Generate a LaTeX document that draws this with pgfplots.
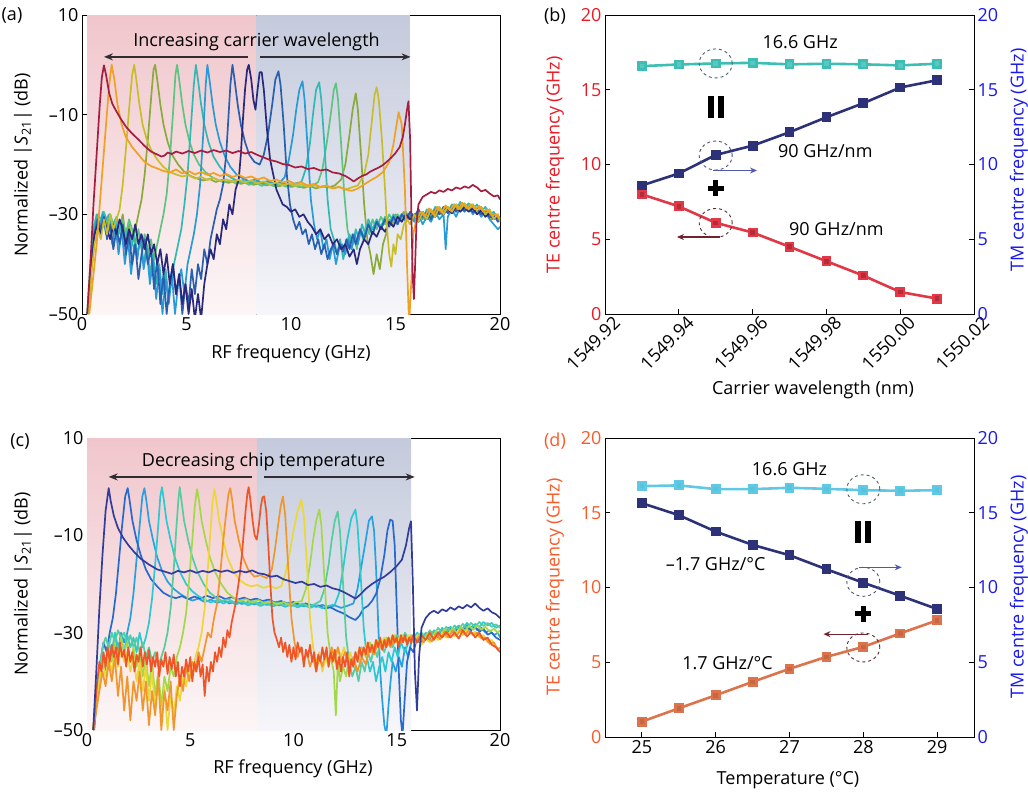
\documentclass[border=0pt]{standalone}
\usepackage{pgfplots}
\pgfplotsset{compat=1.18}
\usepackage{fontspec}
\setmainfont{Open Sans}
\usetikzlibrary{arrows.meta}

\definecolor{aA}{RGB}{165,30,65}
\definecolor{aB}{RGB}{240,160,35}
\definecolor{aC}{RGB}{200,190,45}
\definecolor{aD}{RGB}{140,170,60}
\definecolor{aE}{RGB}{95,195,130}
\definecolor{aF}{RGB}{50,185,180}
\definecolor{aG}{RGB}{40,155,215}
\definecolor{aH}{RGB}{40,95,175}
\definecolor{aI}{RGB}{40,40,125}
\definecolor{cA}{RGB}{50,60,155}
\definecolor{cB}{RGB}{40,105,205}
\definecolor{cC}{RGB}{40,160,225}
\definecolor{cD}{RGB}{45,200,210}
\definecolor{cE}{RGB}{85,205,160}
\definecolor{cF}{RGB}{165,215,75}
\definecolor{cG}{RGB}{235,215,55}
\definecolor{cH}{RGB}{240,150,45}
\definecolor{cI}{RGB}{240,85,40}
\definecolor{pinkT}{RGB}{240,198,204}
\definecolor{pinkB}{RGB}{252,246,246}
\definecolor{blueT}{RGB}{196,202,220}
\definecolor{blueB}{RGB}{246,246,250}
\definecolor{bRed}{RGB}{225,55,70}
\definecolor{bNavy}{RGB}{45,50,120}
\definecolor{bCyan}{RGB}{60,190,180}
\definecolor{dOrange}{RGB}{220,115,75}
\definecolor{dCyan}{RGB}{95,200,230}
\definecolor{tRed}{RGB}{235,25,35}
\definecolor{tBlue}{RGB}{25,25,235}
\definecolor{tOrange}{RGB}{250,90,40}
\definecolor{arrG}{RGB}{50,45,50}
\definecolor{arB}{RGB}{80,90,170}
\definecolor{arR}{RGB}{110,35,45}
\definecolor{ciC}{RGB}{70,100,100}
\definecolor{ciB}{RGB}{80,80,120}
\definecolor{ciR}{RGB}{90,45,45}

\newcommand{\fs}{\fontsize{18}{21.5}\selectfont}
\pgfplotsset{
  myax/.style={scale only axis, anchor=south west, tick align=inside,
    major tick length=5pt, axis line style={line width=0.9pt},
    tick style={line width=0.9pt, black},
    every tick label/.append style={font=\fs},
    /pgf/number format/assume math mode=true},
  sp/.style={line width=1.7pt, line join=round, no marks},
  fr/.style={line width=2.6pt, mark=square*, mark size=3.6pt},
}

\begin{document}
\begin{tikzpicture}[font=\fs]
\useasboundingbox (0pt,0pt) rectangle (1028pt,-794pt);

% ================= (a) =================
\begin{axis}[myax, at={(82pt,-314pt)}, width=418pt, height=299pt,
  xmin=0, xmax=20, ymin=-50, ymax=10,
  xtick={0,5,10,15,20}, xticklabels={0,5,10,15,20},
  ytick={-50,-30,-10,10}, yticklabels={–50,–30,–10,10},
  xtick pos=bottom, ytick pos=left]
\path[top color=pinkT, bottom color=pinkB] (axis cs:0.24,-50) rectangle (axis cs:8.34,10);
\path[top color=blueT, bottom color=blueB] (axis cs:8.34,-50) rectangle (axis cs:15.69,10);
% olive green
\addplot[sp, aD] coordinates {(0.3,-50)(0.45,-40)(0.6,-34)(0.75,-31)(0.9,-33)(1.05,-30.5)(1.2,-32)(1.35,-30)(1.5,-34)(1.65,-31)(1.8,-33)(1.95,-30)(2.1,-35)(2.25,-32)(2.4,-36)(2.55,-33)(2.7,-30)(2.85,-27)(3.0,-22)(3.15,-15)(3.3,-7)(3.42,-1)(3.5,0)(3.6,-3)(3.75,-8)(3.9,-12)(4.1,-15.5)(4.3,-18)(4.6,-20)(4.9,-21.5)(5.2,-22.3)(5.5,-22.8)(5.8,-23.2)(6.1,-22.9)(6.4,-23.5)(6.7,-23.1)(7.0,-23.7)(7.3,-23.3)(7.6,-23.9)(7.9,-23.5)(8.2,-24.1)(8.5,-23.7)(8.8,-24.2)(9.1,-23.9)(9.4,-24.4)(9.7,-24.0)(10.0,-24.5)(10.3,-24.2)(10.6,-24.7)(10.9,-24.3)(11.2,-24.8)(11.5,-24.4)(11.8,-24.6)(12.1,-24.2)(12.4,-23)(12.6,-20)(12.8,-14)(12.95,-9)(13.1,-5.7)(13.2,-9)(13.35,-18)(13.5,-28)(13.65,-35)(13.8,-38)(13.95,-42)(14.1,-38)(14.25,-41)(14.4,-36)(14.55,-34)(14.7,-31)(14.85,-32)(15.0,-30)(15.2,-31)(15.4,-29.5)(15.6,-31)(15.8,-30)(16.0,-31.5)(16.2,-29.5)(16.4,-31)(16.6,-29)(16.8,-30.5)(17.0,-28.5)(17.2,-30)(17.4,-28.5)(17.6,-29.5)(17.8,-28)(18.0,-29)(18.2,-27.8)(18.4,-29)(18.6,-28)(18.8,-29.2)(19.0,-28.5)(19.2,-30)(19.4,-29)(19.6,-31)(19.8,-30)(20,-31.5)};
% green
\addplot[sp, aE] coordinates {(0.3,-50)(0.45,-38)(0.6,-32)(0.75,-30)(0.9,-31)(1.05,-29.5)(1.2,-31.5)(1.35,-30)(1.5,-32)(1.65,-30.5)(1.8,-33)(1.95,-31)(2.1,-34)(2.25,-31)(2.4,-33)(2.55,-36)(2.7,-33)(2.85,-37)(3.0,-34)(3.15,-38)(3.3,-35)(3.45,-39)(3.6,-36)(3.75,-33)(3.9,-30)(4.05,-26)(4.2,-19)(4.35,-10)(4.47,-2)(4.55,0)(4.65,-3)(4.8,-8)(4.95,-12)(5.15,-15.5)(5.35,-18)(5.6,-20)(5.9,-21.5)(6.2,-22.5)(6.5,-23.1)(6.8,-23.6)(7.1,-23.2)(7.4,-23.9)(7.7,-23.4)(8.0,-24.1)(8.3,-23.6)(8.6,-24.3)(8.9,-23.8)(9.2,-24.4)(9.5,-24.0)(9.8,-24.5)(10.1,-24.1)(10.4,-24.6)(10.7,-24.2)(11.0,-24.4)(11.3,-23.5)(11.5,-21)(11.7,-16)(11.9,-10)(12.05,-5)(12.15,-3.7)(12.25,-7)(12.4,-16)(12.55,-26)(12.7,-33)(12.85,-36)(13.0,-34)(13.15,-37)(13.3,-33)(13.45,-35)(13.6,-32)(13.75,-34)(13.9,-31)(14.1,-33)(14.3,-30.5)(14.5,-32)(14.7,-30)(14.9,-31.5)(15.1,-30)(15.3,-31)(15.5,-29.5)(15.7,-31)(15.9,-30)(16.1,-31.5)(16.3,-29.5)(16.5,-31)(16.7,-29)(16.9,-30.5)(17.1,-28.5)(17.3,-30)(17.5,-28.5)(17.7,-29.5)(17.9,-28)(18.1,-29)(18.3,-27.8)(18.5,-29)(18.7,-28)(18.9,-29.2)(19.1,-28.5)(19.3,-30)(19.5,-29)(19.7,-31)(19.9,-30)(20,-31)};
% teal
\addplot[sp, aF] coordinates {(0.25,-50)(0.4,-40)(0.55,-33)(0.7,-30)(0.85,-32)(1.0,-29.5)(1.15,-31)(1.3,-30)(1.45,-33)(1.6,-31)(1.75,-34)(1.9,-32)(2.05,-35)(2.2,-33)(2.35,-37)(2.5,-34)(2.65,-38)(2.8,-35)(2.95,-40)(3.1,-36)(3.25,-42)(3.4,-38)(3.55,-44)(3.7,-40)(3.85,-46)(4.0,-41)(4.15,-47)(4.3,-42)(4.45,-39)(4.6,-36)(4.75,-33)(4.9,-28)(5.05,-22)(5.2,-13)(5.35,-4)(5.45,0)(5.55,-3)(5.7,-8)(5.85,-12)(6.05,-15.5)(6.3,-18.5)(6.6,-20.5)(6.9,-22)(7.2,-22.8)(7.5,-23.4)(7.8,-23.0)(8.1,-23.7)(8.4,-23.3)(8.7,-23.9)(9.0,-23.5)(9.3,-24.1)(9.6,-23.7)(9.9,-24.2)(10.2,-23.8)(10.5,-23.5)(10.7,-21)(10.9,-16)(11.05,-10)(11.2,-5)(11.35,-3.5)(11.45,-7)(11.6,-16)(11.75,-27)(11.9,-33)(12.05,-35)(12.2,-38)(12.35,-35)(12.5,-39)(12.65,-36)(12.8,-34)(12.95,-36)(13.1,-33)(13.25,-35)(13.4,-32)(13.55,-34)(13.7,-31)(13.9,-33)(14.1,-31)(14.3,-32.5)(14.5,-30.5)(14.7,-32)(14.9,-30)(15.1,-31.5)(15.3,-30)(15.5,-31)(15.7,-30)(15.9,-31)(16.1,-29.5)(16.3,-31)(16.5,-29)(16.7,-30.5)(16.9,-28.5)(17.1,-30)(17.3,-28.5)(17.5,-29.5)(17.7,-28)(17.9,-29)(18.1,-27.5)(18.3,-28.8)(18.5,-27.8)(18.7,-29)(18.9,-28)(19.1,-29.5)(19.3,-28.5)(19.5,-30)(19.7,-29.5)(19.9,-31)(20,-30.5)};
% light blue
\addplot[sp, aG] coordinates {(0.25,-50)(0.4,-42)(0.55,-35)(0.7,-31)(0.85,-33)(1.0,-30)(1.15,-34)(1.3,-31)(1.45,-36)(1.6,-32)(1.75,-38)(1.9,-33)(2.05,-40)(2.2,-35)(2.35,-42)(2.5,-36)(2.65,-39)(2.8,-34)(2.95,-41)(3.1,-37)(3.25,-44)(3.4,-39)(3.55,-47)(3.7,-41)(3.85,-50)(4.0,-43)(4.15,-48)(4.3,-42)(4.45,-50)(4.6,-44)(4.75,-41)(4.9,-46)(5.05,-40)(5.2,-37)(5.35,-34)(5.5,-30)(5.65,-24)(5.8,-14)(5.92,-4)(6.0,0)(6.1,-3)(6.25,-8)(6.4,-12)(6.6,-15.5)(6.85,-18.5)(7.1,-20.5)(7.4,-22)(7.7,-22.8)(8.0,-23.4)(8.3,-23.0)(8.6,-23.7)(8.9,-23.3)(9.2,-23.9)(9.5,-23.5)(9.7,-22.5)(9.9,-19)(10.1,-14)(10.25,-9)(10.4,-5)(10.55,-3.3)(10.65,-7)(10.8,-17)(10.95,-27)(11.1,-32)(11.25,-35)(11.4,-33)(11.55,-37)(11.7,-35)(11.85,-39)(12.0,-36)(12.15,-40)(12.3,-37)(12.45,-36)(12.6,-38)(12.75,-35)(12.9,-37)(13.05,-34)(13.2,-36)(13.35,-33)(13.5,-35)(13.7,-32)(13.9,-34)(14.1,-31.5)(14.3,-33)(14.5,-31)(14.7,-32)(14.9,-30.5)(15.1,-32)(15.3,-30)(15.5,-31.5)(15.7,-30)(15.9,-31.5)(16.1,-30)(16.3,-32)(16.5,-30.5)(16.7,-31.5)(16.9,-29.5)(17.1,-31)(17.3,-30)(17.4,-37)(17.5,-30.5)(17.7,-29)(17.9,-30.5)(18.1,-28.5)(18.3,-29.5)(18.5,-28.5)(18.7,-30)(18.9,-29)(19.1,-30.5)(19.3,-29.5)(19.5,-31)(19.7,-32)(19.9,-33)(20,-32.5)};
% blue
\addplot[sp, aH] coordinates {(0.3,-50)(0.45,-41)(0.6,-34)(0.75,-31)(0.9,-33)(1.05,-30.5)(1.2,-35)(1.35,-32)(1.5,-37)(1.65,-33)(1.8,-36)(1.95,-32)(2.1,-38)(2.25,-34)(2.4,-40)(2.55,-36)(2.7,-43)(2.85,-38)(3.0,-35)(3.15,-40)(3.3,-37)(3.45,-45)(3.6,-39)(3.75,-48)(3.9,-42)(4.05,-50)(4.2,-44)(4.35,-40)(4.5,-46)(4.65,-42)(4.8,-50)(4.95,-44)(5.1,-48)(5.25,-41)(5.4,-46)(5.55,-40)(5.7,-43)(5.85,-37)(6.0,-40)(6.15,-35)(6.3,-32)(6.45,-29)(6.6,-27)(6.75,-24)(6.9,-18)(7.0,-11)(7.1,-4)(7.2,0)(7.3,-3)(7.45,-8)(7.6,-12)(7.8,-15.5)(8.0,-18)(8.25,-19.5)(8.5,-20)(8.7,-18)(8.9,-14)(9.1,-8)(9.25,-3)(9.4,-1.3)(9.5,-4)(9.65,-12)(9.8,-22)(9.95,-28)(10.1,-31)(10.25,-33)(10.4,-31.5)(10.55,-34)(10.7,-33)(10.85,-36)(11.0,-34)(11.15,-37)(11.3,-35)(11.45,-38)(11.6,-36)(11.75,-39)(11.9,-37)(12.05,-36)(12.2,-38)(12.35,-36)(12.5,-37.5)(12.65,-35)(12.8,-37)(12.95,-34)(13.1,-36)(13.3,-33)(13.5,-35)(13.7,-32)(13.9,-34)(14.1,-31.5)(14.3,-33)(14.5,-31)(14.7,-32.5)(14.9,-30.5)(15.1,-32)(15.3,-30)(15.5,-31)(15.7,-29.5)(15.9,-30.5)(16.1,-29)(16.3,-30.5)(16.5,-29.5)(16.7,-31)(16.9,-29)(17.1,-30)(17.3,-28.5)(17.5,-29.8)(17.7,-28.5)(17.9,-29.5)(18.1,-28.2)(18.3,-29.3)(18.5,-28.4)(18.7,-29.6)(18.9,-28.8)(19.1,-30)(19.3,-29.2)(19.5,-30.6)(19.7,-30)(19.9,-31.5)(20,-31)};
% navy
\addplot[sp, aI] coordinates {(0.3,-50)(0.45,-40)(0.6,-34)(0.75,-32)(0.9,-34)(1.05,-31)(1.2,-33)(1.35,-35)(1.5,-32)(1.65,-34)(1.8,-31)(1.95,-33)(2.1,-36)(2.25,-33)(2.4,-35)(2.55,-32)(2.7,-36)(2.85,-34)(3.0,-37)(3.15,-34)(3.3,-38)(3.45,-36)(3.6,-40)(3.75,-37)(3.9,-42)(4.05,-38)(4.2,-44)(4.35,-40)(4.5,-46)(4.65,-42)(4.8,-48)(4.95,-44)(5.1,-50)(5.25,-45)(5.4,-51)(5.55,-46)(5.7,-51)(5.85,-44)(6.0,-40)(6.15,-37)(6.3,-39)(6.45,-34)(6.6,-36)(6.75,-31)(6.9,-33)(7.05,-28)(7.2,-30)(7.35,-25)(7.5,-23)(7.6,-18)(7.7,-11)(7.8,-5)(7.9,-1)(7.98,0)(8.1,-3)(8.2,-7)(8.3,-9)(8.4,-5)(8.5,-1.5)(8.6,-1.5)(8.7,-5)(8.85,-13)(9.0,-19)(9.15,-22)(9.3,-25)(9.45,-26.5)(9.6,-28)(9.8,-28.5)(10.0,-29.5)(10.2,-29)(10.4,-30.5)(10.6,-30)(10.8,-31.5)(11.0,-32.5)(11.2,-34)(11.4,-33)(11.6,-35)(11.8,-34)(12.0,-36)(12.2,-35)(12.4,-37)(12.6,-36)(12.8,-38.5)(13.0,-37)(13.15,-40)(13.3,-37)(13.5,-35)(13.7,-36)(13.9,-33.5)(14.1,-34.5)(14.3,-32.5)(14.5,-33.5)(14.7,-31.5)(14.9,-32.5)(15.1,-30.5)(15.3,-31.5)(15.5,-30)(15.7,-31)(15.9,-30)(16.1,-31.5)(16.3,-29.5)(16.5,-31)(16.7,-29.5)(16.9,-30.5)(17.1,-29)(17.3,-30)(17.5,-28.8)(17.7,-29.8)(17.9,-28.5)(18.1,-29.5)(18.3,-28.5)(18.5,-29.5)(18.7,-28.8)(18.9,-30)(19.1,-29.2)(19.3,-30.5)(19.5,-29.8)(19.7,-31)(19.9,-30.5)(20,-31)};
% yellow-olive
\addplot[sp, aC] coordinates {(0.3,-50)(0.45,-42)(0.6,-36)(0.75,-33)(0.9,-35)(1.05,-31)(1.2,-34)(1.35,-30)(1.5,-33)(1.65,-31)(1.8,-29)(1.95,-24)(2.1,-17)(2.25,-9)(2.4,-2)(2.5,0)(2.6,-3)(2.75,-8)(2.9,-12)(3.1,-15)(3.3,-17)(3.6,-19)(3.9,-20.5)(4.2,-21.5)(4.5,-22)(4.8,-22.4)(5.1,-22.1)(5.4,-22.8)(5.7,-22.5)(6.0,-23.1)(6.3,-22.7)(6.6,-23.3)(6.9,-23.0)(7.2,-23.5)(7.5,-23.1)(7.8,-23.6)(8.1,-23.2)(8.4,-23.8)(8.7,-23.4)(9.0,-24.0)(9.3,-23.6)(9.6,-24.2)(9.9,-23.8)(10.2,-24.3)(10.5,-24.0)(10.8,-24.5)(11.1,-24.1)(11.4,-24.6)(11.7,-24.3)(12.0,-24.8)(12.3,-24.5)(12.6,-25.0)(12.9,-24.6)(13.2,-24.2)(13.5,-22)(13.7,-18)(13.85,-12)(14.0,-6)(14.1,-4.5)(14.2,-7)(14.35,-15)(14.5,-25)(14.6,-33)(14.7,-38)(14.8,-40.5)(14.9,-36)(15.0,-38)(15.1,-34)(15.25,-35)(15.4,-32)(15.55,-31)(15.7,-32)(15.9,-30)(16.1,-31.5)(16.3,-29.5)(16.5,-31)(16.7,-29)(16.9,-30.5)(17.1,-28.5)(17.3,-30)(17.5,-28.5)(17.7,-29.5)(17.9,-28)(18.1,-29)(18.3,-27.8)(18.5,-29)(18.7,-28)(18.9,-29.2)(19.1,-28.5)(19.3,-30)(19.5,-29)(19.7,-31)(19.9,-30)(20,-31.5)};
% orange
\addplot[sp, aB] coordinates {(0.35,-50)(0.5,-44)(0.7,-36)(0.85,-28)(1.0,-20)(1.15,-12)(1.3,-4)(1.42,0)(1.55,-3)(1.7,-8)(1.9,-12)(2.1,-14.5)(2.4,-16.5)(2.7,-18)(3.0,-19.5)(3.3,-20.3)(3.6,-20.8)(3.9,-21.3)(4.2,-21.6)(4.5,-21.0)(4.8,-21.8)(5.1,-21.3)(5.4,-22.0)(5.7,-21.5)(6.0,-22.1)(6.3,-21.7)(6.6,-22.3)(6.9,-21.9)(7.2,-22.5)(7.5,-22.1)(7.8,-22.7)(8.1,-22.4)(8.4,-23.0)(8.7,-22.6)(9.0,-23.3)(9.3,-23.0)(9.6,-23.6)(9.9,-23.3)(10.2,-23.9)(10.5,-23.6)(10.8,-24.2)(11.1,-23.9)(11.4,-24.5)(11.7,-24.2)(12.0,-24.8)(12.3,-24.5)(12.6,-25.0)(12.9,-25.3)(13.2,-24.8)(13.5,-24.0)(13.8,-23.2)(14.1,-22.5)(14.4,-21.5)(14.7,-19.5)(14.9,-16)(15.05,-12)(15.15,-9.5)(15.3,-12)(15.45,-25)(15.55,-40)(15.65,-52)(15.75,-44)(15.85,-34)(16.0,-31)(16.2,-29.5)(16.4,-30.5)(16.6,-28.8)(16.8,-30)(17.0,-28.5)(17.2,-29.6)(17.4,-28.2)(17.6,-29.2)(17.8,-28)(18.0,-29)(18.2,-27.7)(18.4,-28.8)(18.6,-28)(18.8,-29)(19.0,-28.3)(19.2,-29.5)(19.4,-29)(19.6,-30.3)(19.8,-30)(20,-31)};
% maroon
\addplot[sp, aA] coordinates {(0.25,-50)(0.4,-40)(0.55,-28)(0.7,-18)(0.85,-8)(0.95,-2.5)(1.05,-0.1)(1.15,-2)(1.3,-5.7)(1.45,-7.8)(1.6,-9)(1.85,-10.8)(2.1,-12.4)(2.4,-13.8)(2.7,-15)(3.0,-16.3)(3.3,-17.4)(3.6,-18)(3.8,-18.4)(3.95,-18.2)(4.1,-17.6)(4.3,-17.9)(4.5,-17.4)(4.8,-17.8)(5.1,-17.3)(5.4,-17.7)(5.7,-17.2)(6.0,-17.6)(6.3,-17.1)(6.6,-17.5)(6.9,-17.2)(7.2,-17.7)(7.5,-17.3)(7.8,-17.8)(8.1,-17.5)(8.4,-18.1)(8.7,-18.6)(9.0,-19.1)(9.3,-19.4)(9.6,-19.9)(9.9,-20.1)(10.2,-20.6)(10.5,-20.4)(10.8,-20.9)(11.1,-20.7)(11.4,-21.2)(11.7,-21.0)(12.0,-21.6)(12.3,-21.8)(12.6,-22.3)(12.8,-22.8)(13.0,-23.4)(13.2,-22.8)(13.4,-22.3)(13.6,-22.0)(13.8,-21.4)(14.0,-21.0)(14.2,-20.6)(14.4,-20.1)(14.6,-19.4)(14.8,-18.6)(15.0,-17.7)(15.2,-16.5)(15.35,-14.5)(15.45,-12)(15.55,-9)(15.62,-7.3)(15.7,-15)(15.76,-30)(15.82,-42)(15.88,-47)(15.94,-40)(16.0,-32)(16.1,-28)(16.3,-26.5)(16.5,-26)(16.7,-25.5)(16.9,-25.8)(17.1,-25.2)(17.3,-25.5)(17.5,-24.9)(17.7,-25.2)(17.9,-24.6)(18.1,-24.9)(18.3,-24.4)(18.5,-24.7)(18.7,-24.1)(18.9,-24.6)(19.1,-25.4)(19.3,-25.1)(19.5,-25.8)(19.7,-26.4)(19.9,-26.2)(20,-27)};
\draw[arrG, line width=1.4pt, -{Stealth[length=9pt,width=7pt]}] (axis cs:7.95,1.6) -- (axis cs:1.05,1.6);
\draw[arrG, line width=1.4pt, -{Stealth[length=9pt,width=7pt]}] (axis cs:8.5,1.6) -- (axis cs:15.72,1.6);
\node at (axis cs:8.35,4.7) {Increasing carrier wavelength};
\end{axis}

% ================= (b) =================
\begin{axis}[myax, at={(605pt,-314pt)}, width=369pt, height=299pt,
  xmin=0, xmax=10, ymin=0, ymax=20,
  xtick={0,2,4,6,8,10}, xticklabels={1549.92,1549.94,1549.96,1549.98,1550.00,1550.02},
  xticklabel style={rotate=45, anchor=north east, xshift=8pt, yshift=-2pt},
  ytick={0,5,10,15,20}, yticklabels={0,5,10,15,20},
  yticklabel style={tRed},
  xtick pos=bottom, ytick pos=left]
\addplot[fr, bCyan, mark options={fill=bCyan!85!white}] coordinates {(1,16.58)(2,16.69)(3,16.76)(4,16.8)(5,16.7)(6,16.74)(7,16.7)(8,16.63)(9,16.74)};
\addplot[fr, bRed, mark options={fill=bRed!80!black}] coordinates {(1,8.0)(2,7.2)(3,6.1)(4,5.45)(5,4.5)(6,3.53)(7,2.57)(8,1.47)(9,1.03)};
\addplot[fr, bNavy] coordinates {(1,8.6)(2,9.4)(3,10.64)(4,11.26)(5,12.16)(6,13.16)(7,14.1)(8,15.15)(9,15.64)};
\draw[ciC, dashed, line width=0.9pt] (axis cs:3,16.76) ellipse [x radius=16.5pt, y radius=14.5pt];
\draw[ciB, dashed, line width=0.9pt] (axis cs:3,10.6) ellipse [x radius=16.5pt, y radius=14.5pt];
\draw[ciR, dashed, line width=0.9pt] (axis cs:3,6.09) ellipse [x radius=16.5pt, y radius=14.5pt];
\node at (axis cs:5.29,18.2) {16.6 GHz};
\node at (axis cs:5.97,10.9) {90 GHz/nm};
\node at (axis cs:6.27,5.65) {90 GHz/nm};
\fill[black] ([xshift=-8pt,yshift=-11pt]axis cs:3,13.85) rectangle ++(6pt,22pt);
\fill[black] ([xshift=2pt,yshift=-11pt]axis cs:3,13.85) rectangle ++(6pt,22pt);
\fill[black] ([xshift=-8pt,yshift=-2.5pt]axis cs:3,8.4) rectangle ++(16pt,5pt);
\fill[black] ([xshift=-2.5pt,yshift=-8pt]axis cs:3,8.4) rectangle ++(5pt,16pt);
\draw[arB, line width=1.2pt, -{Stealth[length=7pt,width=6pt]}] (axis cs:2.94,9.6) -- (axis cs:4.12,9.6);
\draw[arR, line width=1.2pt, -{Stealth[length=7pt,width=6pt]}] (axis cs:3.12,5.15) -- (axis cs:1.95,5.15);
\end{axis}
\begin{axis}[myax, at={(605pt,-314pt)}, width=369pt, height=299pt,
  xmin=0, xmax=10, ymin=0, ymax=20, hide x axis,
  ytick pos=right, yticklabel pos=right,
  ytick={0,5,10,15,20}, yticklabels={0,5,10,15,20},
  yticklabel style={tBlue}]
\end{axis}

% ================= (c) =================
\begin{axis}[myax, at={(87pt,-730pt)}, width=413pt, height=292pt,
  xmin=0, xmax=20, ymin=-50, ymax=10,
  xtick={0,5,10,15,20}, xticklabels={0,5,10,15,20},
  ytick={-50,-30,-10,10}, yticklabels={–50,–30,–10,10},
  xtick pos=bottom, ytick pos=left]
\path[top color=pinkT, bottom color=pinkB] (axis cs:0,-50) rectangle (axis cs:8.23,10);
\path[top color=blueT, bottom color=blueB] (axis cs:8.23,-50) rectangle (axis cs:15.69,10);
% light blue
\addplot[sp, cC] coordinates {(0.3,-50)(0.45,-45)(0.6,-40)(0.75,-36)(0.9,-38)(1.05,-33)(1.2,-35)(1.35,-31)(1.5,-34)(1.65,-30)(1.8,-32)(1.95,-30)(2.1,-27)(2.25,-22)(2.4,-15)(2.55,-8)(2.68,-2)(2.78,-0.3)(2.88,-3)(3.0,-7)(3.2,-11)(3.4,-14.5)(3.65,-17.5)(3.9,-19.5)(4.2,-21)(4.5,-22)(4.8,-22.8)(5.1,-23.4)(5.4,-23.0)(5.7,-23.7)(6.0,-23.2)(6.3,-23.9)(6.6,-23.4)(6.9,-24.0)(7.2,-23.6)(7.5,-24.1)(7.8,-23.7)(8.1,-24.2)(8.4,-23.8)(8.7,-24.3)(9.0,-23.9)(9.3,-24.4)(9.6,-24.0)(9.9,-24.5)(10.2,-24.1)(10.5,-24.6)(10.8,-24.2)(11.1,-24.7)(11.4,-24.3)(11.7,-24.8)(12.0,-24.4)(12.3,-24.9)(12.6,-24.5)(12.9,-24)(13.1,-21)(13.3,-16)(13.5,-11)(13.65,-7)(13.8,-6.1)(13.9,-9)(14.0,-17)(14.1,-28)(14.2,-38)(14.3,-44)(14.4,-49)(14.5,-51)(14.6,-45)(14.7,-40)(14.8,-36)(14.95,-38)(15.1,-35)(15.25,-37)(15.4,-33)(15.55,-35)(15.7,-32)(15.9,-31)(16.1,-32)(16.3,-30.5)(16.5,-31.5)(16.7,-30)(16.9,-31)(17.1,-29.5)(17.3,-30.5)(17.5,-29)(17.7,-30)(17.9,-28.8)(18.1,-29.6)(18.3,-28.6)(18.5,-29.4)(18.7,-28.5)(18.9,-29.5)(19.1,-29)(19.3,-30)(19.5,-29.5)(19.7,-30.5)(19.9,-30)(20,-31)};
% blue
\addplot[sp, cB] coordinates {(0.35,-50)(0.5,-42)(0.65,-36)(0.8,-32)(0.95,-34)(1.1,-30)(1.25,-27)(1.4,-22)(1.55,-15)(1.7,-8)(1.85,-2)(1.97,-0.3)(2.07,-3)(2.2,-7)(2.4,-11)(2.6,-14)(2.85,-17)(3.1,-19)(3.4,-20.5)(3.7,-21.8)(4.0,-22.5)(4.3,-22.9)(4.6,-22.5)(4.9,-23.1)(5.2,-22.6)(5.5,-23.0)(5.8,-22.4)(6.1,-22.9)(6.4,-22.5)(6.7,-23.1)(7.0,-22.7)(7.3,-23.2)(7.6,-22.8)(7.9,-23.3)(8.2,-23.0)(8.5,-23.5)(8.8,-23.2)(9.1,-23.8)(9.4,-23.5)(9.7,-24.0)(10.0,-23.7)(10.3,-24.3)(10.6,-24.0)(10.9,-24.6)(11.2,-24.4)(11.5,-25.0)(11.8,-24.8)(12.1,-25.5)(12.4,-26)(12.7,-26.8)(13.0,-27.4)(13.2,-26.5)(13.4,-25)(13.6,-24.5)(13.8,-23.5)(14.0,-22)(14.2,-19)(14.4,-14)(14.55,-9)(14.68,-6.8)(14.8,-7)(14.9,-12)(15.0,-25)(15.1,-38)(15.2,-48)(15.28,-51)(15.38,-44)(15.5,-36)(15.65,-33)(15.8,-34)(16.0,-31)(16.2,-32)(16.4,-30.5)(16.6,-31.5)(16.8,-30)(17.0,-31)(17.2,-29.5)(17.4,-30.5)(17.6,-29.2)(17.8,-30)(18.0,-28.8)(18.2,-29.8)(18.4,-28.6)(18.6,-29.5)(18.8,-28.8)(19.0,-29.8)(19.2,-29.2)(19.4,-30.4)(19.6,-30)(19.8,-31)(20,-31.5)};
% cyan
\addplot[sp, cD] coordinates {(0.3,-50)(0.45,-43)(0.6,-37)(0.75,-34)(0.9,-36)(1.05,-32)(1.2,-34)(1.35,-30)(1.5,-33)(1.65,-31)(1.8,-34)(1.95,-30.5)(2.1,-33)(2.25,-31)(2.4,-34)(2.55,-30)(2.7,-33)(2.85,-31)(3.0,-28)(3.15,-23)(3.3,-16)(3.45,-8)(3.55,-2)(3.63,-0.1)(3.73,-3)(3.85,-7)(4.05,-11)(4.25,-14.5)(4.5,-17.5)(4.8,-20)(5.1,-21.5)(5.4,-22.5)(5.7,-23.2)(6.0,-23.8)(6.3,-23.3)(6.6,-24.0)(6.9,-23.5)(7.2,-24.2)(7.5,-23.7)(7.8,-24.4)(8.1,-23.9)(8.4,-24.5)(8.7,-24.0)(9.0,-24.6)(9.3,-24.1)(9.6,-24.7)(9.9,-24.2)(10.2,-24.8)(10.5,-24.3)(10.8,-24.9)(11.1,-24.4)(11.4,-25.0)(11.7,-24.5)(12.0,-24.2)(12.2,-22)(12.4,-17)(12.6,-11)(12.8,-6.5)(13.0,-4.7)(13.1,-8)(13.25,-18)(13.4,-29)(13.55,-35)(13.7,-38)(13.85,-36)(14.0,-40)(14.15,-37)(14.3,-35)(14.45,-38)(14.6,-34)(14.75,-36)(14.9,-33)(15.05,-35)(15.2,-32)(15.4,-34)(15.6,-31.5)(15.8,-31)(16.0,-30)(16.2,-31.5)(16.4,-30)(16.6,-31)(16.8,-29.5)(17.0,-30.5)(17.2,-29)(17.4,-30)(17.6,-28.8)(17.8,-29.5)(18.0,-28.5)(18.2,-29.2)(18.4,-28)(18.6,-29)(18.8,-28.2)(19.0,-28.8)(19.2,-27.8)(19.4,-28.5)(19.6,-28)(19.8,-29)(20,-28.5)};
% teal-green
\addplot[sp, cE] coordinates {(0.3,-50)(0.45,-44)(0.6,-38)(0.75,-33)(0.9,-31)(1.05,-33)(1.2,-30)(1.35,-32)(1.5,-29.5)(1.65,-31)(1.8,-30)(1.95,-32.5)(2.1,-30.5)(2.25,-33)(2.4,-31)(2.55,-34)(2.7,-32)(2.85,-35)(3.0,-33)(3.15,-36)(3.3,-34)(3.45,-37)(3.6,-35)(3.75,-33)(3.9,-30)(4.05,-25)(4.2,-17)(4.32,-9)(4.42,-3)(4.49,-0.1)(4.58,-3)(4.7,-7)(4.9,-11)(5.1,-14.5)(5.35,-17.5)(5.65,-20)(5.95,-21.8)(6.25,-22.8)(6.55,-23.5)(6.85,-23.1)(7.15,-23.8)(7.45,-23.3)(7.75,-24.0)(8.05,-23.5)(8.35,-24.2)(8.65,-23.7)(8.95,-24.3)(9.25,-23.8)(9.55,-24.4)(9.85,-23.9)(10.15,-24.5)(10.45,-24.0)(10.75,-24.6)(11.05,-24.1)(11.3,-23.5)(11.5,-21)(11.7,-16)(11.85,-11)(12.0,-7)(12.14,-5.1)(12.25,-9)(12.4,-20)(12.55,-31)(12.7,-36)(12.85,-39)(13.0,-37)(13.15,-40)(13.3,-36)(13.45,-38)(13.6,-34)(13.75,-36)(13.9,-33)(14.05,-35)(14.2,-32)(14.4,-34)(14.6,-31)(14.8,-33)(15.0,-30.5)(15.2,-32)(15.4,-30)(15.6,-31.5)(15.8,-30.5)(16.0,-31.5)(16.2,-30)(16.4,-31)(16.6,-29.5)(16.8,-30.5)(17.0,-29)(17.2,-30)(17.4,-28.8)(17.6,-29.8)(17.8,-28.5)(18.0,-29.3)(18.2,-28.2)(18.4,-29)(18.6,-28)(18.8,-28.8)(19.0,-27.8)(19.2,-28.6)(19.4,-28)(19.6,-28.8)(19.8,-28.3)(20,-29)};
% yellow-green
\addplot[sp, cF] coordinates {(0.3,-50)(0.45,-45)(0.6,-39)(0.75,-35)(0.9,-37)(1.05,-33)(1.2,-36)(1.35,-32)(1.5,-35)(1.65,-31)(1.8,-34)(1.95,-32)(2.1,-36)(2.25,-33)(2.4,-37)(2.55,-34)(2.7,-39)(2.85,-35)(3.0,-41)(3.15,-36)(3.3,-43)(3.45,-38)(3.6,-45)(3.75,-39)(3.9,-42)(4.05,-37)(4.2,-39)(4.35,-35)(4.5,-33)(4.65,-30)(4.8,-26)(4.95,-19)(5.1,-11)(5.22,-4)(5.33,-0.5)(5.43,-3)(5.55,-7)(5.75,-11)(5.95,-14.5)(6.2,-17.5)(6.5,-20)(6.8,-21.8)(7.1,-22.8)(7.4,-23.5)(7.7,-23.1)(8.0,-23.8)(8.3,-23.3)(8.6,-24.0)(8.9,-23.5)(9.2,-24.2)(9.5,-23.7)(9.8,-24.3)(10.1,-23.8)(10.4,-23.5)(10.6,-21)(10.8,-16)(10.95,-11)(11.1,-7)(11.25,-4.7)(11.35,-8)(11.5,-19)(11.65,-30)(11.8,-35)(11.95,-38)(12.05,-47)(12.15,-36)(12.25,-40)(12.4,-37)(12.55,-39)(12.7,-35)(12.85,-37)(13.0,-34)(13.15,-36)(13.3,-33)(13.5,-35)(13.7,-32)(13.9,-34)(14.1,-31.5)(14.3,-33)(14.5,-31)(14.7,-32.5)(14.9,-30.5)(15.1,-32)(15.3,-30.5)(15.5,-31.5)(15.7,-30.5)(15.9,-31.8)(16.1,-30.2)(16.3,-31.5)(16.5,-30)(16.7,-31)(16.9,-29.6)(17.1,-30.6)(17.3,-29.3)(17.5,-30.2)(17.7,-29)(17.9,-30)(18.1,-28.8)(18.3,-29.6)(18.5,-28.6)(18.7,-29.4)(18.9,-28.5)(19.1,-29.4)(19.3,-28.8)(19.5,-29.8)(19.7,-29.2)(19.9,-30)(20,-29.5)};
% yellow
\addplot[sp, cG] coordinates {(0.3,-50)(0.45,-44)(0.6,-40)(0.75,-36)(0.9,-39)(1.05,-35)(1.2,-38)(1.35,-34)(1.5,-37)(1.65,-33)(1.8,-36)(1.95,-34)(2.1,-38)(2.25,-35)(2.4,-40)(2.55,-36)(2.7,-42)(2.85,-37)(3.0,-44)(3.15,-38)(3.3,-46)(3.45,-40)(3.6,-48)(3.75,-41)(3.9,-50)(4.05,-43)(4.2,-47)(4.35,-41)(4.5,-44)(4.65,-39)(4.8,-41)(4.95,-37)(5.1,-39)(5.25,-35)(5.4,-33)(5.55,-30)(5.7,-25)(5.85,-17)(5.98,-9)(6.08,-3)(6.17,-0.5)(6.27,-3)(6.4,-7)(6.6,-11)(6.8,-14.5)(7.05,-17)(7.35,-19)(7.65,-20)(7.95,-20.5)(8.25,-20.2)(8.55,-20.8)(8.85,-20.4)(9.15,-20.9)(9.4,-20.5)(9.6,-18)(9.8,-14)(10.0,-9)(10.2,-5)(10.38,-2.7)(10.5,-6)(10.65,-16)(10.8,-27)(10.95,-33)(11.1,-36)(11.25,-34)(11.4,-38)(11.55,-35)(11.7,-37)(11.85,-34)(12.0,-36)(12.15,-33)(12.3,-35)(12.45,-33)(12.6,-36)(12.75,-34)(12.9,-37)(13.05,-35)(13.2,-33)(13.4,-34.5)(13.6,-32)(13.8,-34)(14.0,-31.5)(14.2,-33)(14.4,-31)(14.6,-32.5)(14.8,-30.5)(15.0,-32)(15.2,-30.5)(15.4,-31.5)(15.6,-30.5)(15.8,-32)(16.0,-30.5)(16.2,-32.5)(16.4,-31)(16.6,-32)(16.8,-30.5)(17.0,-31.5)(17.2,-30)(17.4,-31)(17.6,-29.8)(17.8,-30.8)(18.0,-29.5)(18.2,-30.5)(18.4,-29.5)(18.6,-30.2)(18.8,-29.8)(19.0,-31)(19.2,-30.5)(19.4,-32)(19.6,-31.5)(19.8,-33)(20,-33.5)};
% orange
\addplot[sp, cH] coordinates {(0.3,-50)(0.45,-46)(0.6,-42)(0.75,-38)(0.9,-41)(1.05,-36)(1.2,-40)(1.35,-35)(1.5,-43)(1.65,-37)(1.8,-46)(1.95,-39)(2.1,-48)(2.25,-40)(2.4,-44)(2.55,-38)(2.7,-46)(2.85,-40)(3.0,-49)(3.15,-42)(3.3,-47)(3.45,-39)(3.6,-50)(3.75,-42)(3.9,-46)(4.05,-40)(4.2,-50)(4.35,-43)(4.5,-39)(4.65,-42)(4.8,-37)(4.95,-40)(5.1,-36)(5.25,-38)(5.4,-34)(5.55,-36)(5.7,-33)(5.85,-30)(6.0,-31)(6.15,-27)(6.3,-24)(6.45,-18)(6.6,-11)(6.75,-5)(6.85,-1.5)(6.94,-0.3)(7.04,-3)(7.15,-7)(7.35,-11)(7.55,-14.5)(7.8,-17)(8.1,-18.5)(8.4,-18.2)(8.7,-18.8)(8.95,-17)(9.1,-13)(9.25,-8)(9.38,-4)(9.49,-2.0)(9.6,-6)(9.75,-17)(9.9,-27)(10.05,-32)(10.2,-35)(10.35,-33)(10.5,-36)(10.65,-34)(10.8,-37)(10.95,-35)(11.1,-38)(11.25,-35)(11.4,-37)(11.55,-34)(11.7,-36)(11.85,-33)(12.0,-35.5)(12.15,-33)(12.3,-36)(12.5,-34)(12.7,-37)(12.9,-35)(13.1,-38)(13.3,-35)(13.5,-36.5)(13.7,-33)(13.9,-34.5)(14.1,-32)(14.3,-33.5)(14.5,-31.5)(14.7,-33)(14.9,-31)(15.1,-32.5)(15.3,-31)(15.5,-32)(15.7,-30.8)(15.9,-32.2)(16.1,-30.6)(16.3,-32)(16.5,-30.8)(16.7,-31.8)(16.9,-30.2)(17.1,-31.4)(17.3,-30)(17.5,-31)(17.7,-29.6)(17.9,-30.6)(18.1,-29.4)(18.3,-30.4)(18.5,-29.6)(18.7,-30.5)(18.9,-30)(19.1,-31.2)(19.3,-31)(19.5,-32.3)(19.7,-32)(19.9,-33.5)(20,-33)};
% red-orange
\addplot[sp, cI] coordinates {(0.3,-50)(0.4,-45)(0.5,-40)(0.6,-36)(0.7,-38)(0.8,-34)(0.9,-37)(1.0,-33)(1.1,-36)(1.2,-32.5)(1.3,-35)(1.4,-33)(1.5,-36.5)(1.6,-32)(1.7,-35)(1.8,-33.5)(1.9,-37)(2.0,-33)(2.1,-36)(2.2,-34)(2.3,-38)(2.4,-34.5)(2.5,-36)(2.6,-33)(2.7,-37)(2.8,-34)(2.9,-36.5)(3.0,-33.5)(3.1,-38)(3.2,-35)(3.3,-37)(3.4,-34)(3.5,-39)(3.6,-35.5)(3.7,-37)(3.8,-34)(3.9,-38.5)(4.0,-35)(4.1,-37.5)(4.2,-34.5)(4.3,-39)(4.4,-36)(4.5,-41)(4.6,-37)(4.7,-39)(4.8,-35.5)(4.9,-38)(5.0,-35)(5.1,-40)(5.2,-36)(5.3,-38)(5.4,-35)(5.5,-39)(5.6,-36.5)(5.7,-43)(5.8,-37)(5.9,-40)(6.0,-36)(6.1,-38)(6.2,-34)(6.3,-36)(6.4,-33)(6.5,-35)(6.6,-31)(6.7,-33)(6.8,-29.5)(6.9,-31)(7.0,-28)(7.1,-26)(7.2,-24)(7.3,-21)(7.4,-18)(7.5,-14)(7.6,-9)(7.7,-4)(7.78,-1)(7.83,-0.1)(7.92,-3)(8.02,-7)(8.12,-10)(8.22,-10.9)(8.32,-8)(8.42,-4)(8.5,-2.2)(8.58,-2.0)(8.68,-5)(8.78,-12)(8.88,-20)(8.98,-27)(9.08,-30)(9.2,-31.5)(9.3,-33)(9.4,-31)(9.5,-34)(9.6,-32)(9.7,-35)(9.8,-32.5)(9.9,-36)(10.0,-33)(10.1,-35.5)(10.2,-32)(10.3,-34)(10.4,-33)(10.5,-37)(10.6,-33.5)(10.7,-35)(10.8,-32.5)(10.9,-36)(11.0,-34)(11.1,-38)(11.2,-34.5)(11.3,-36)(11.4,-33)(11.5,-35.5)(11.6,-33)(11.7,-37)(11.8,-34)(11.9,-36)(12.0,-33.5)(12.1,-37.5)(12.2,-35)(12.3,-38)(12.4,-35)(12.5,-37)(12.6,-34)(12.7,-39)(12.8,-35.5)(12.9,-37)(13.0,-34)(13.1,-36)(13.2,-33)(13.3,-35)(13.4,-33)(13.5,-34.5)(13.6,-32)(13.7,-34)(13.8,-32.5)(13.9,-34)(14.0,-31.5)(14.1,-33)(14.2,-31)(14.3,-33.5)(14.4,-31.5)(14.5,-33)(14.6,-31)(14.7,-32.5)(14.8,-30.5)(14.9,-32)(15.0,-31)(15.1,-33)(15.2,-30.5)(15.3,-32)(15.4,-30.5)(15.5,-32.5)(15.6,-31)(15.7,-32)(15.8,-30.5)(16.0,-32)(16.2,-30.5)(16.4,-31.5)(16.6,-30)(16.8,-31.5)(17.0,-30)(17.2,-31)(17.4,-29.8)(17.6,-31)(17.8,-30)(18.0,-31.2)(18.2,-29.5)(18.4,-30.8)(18.6,-29.8)(18.8,-31)(19.0,-30)(19.2,-31.5)(19.4,-31)(19.6,-32.5)(19.8,-33)(20.0,-34)};
% navy
\addplot[sp, cA] coordinates {(0.3,-50)(0.45,-38)(0.6,-25)(0.75,-14)(0.9,-5)(1.05,-0.3)(1.15,-3)(1.3,-6)(1.5,-8.5)(1.75,-10.5)(2.0,-12)(2.3,-13.5)(2.6,-14.8)(3.0,-16)(3.4,-17)(3.8,-17.5)(4.1,-17.9)(4.4,-17.3)(4.7,-17.6)(5.0,-17.2)(5.3,-17.7)(5.6,-17.3)(5.9,-17.6)(6.2,-17.1)(6.5,-17.5)(6.8,-17.2)(7.1,-17.7)(7.4,-17.3)(7.7,-17.6)(8.0,-17.2)(8.3,-17.8)(8.6,-18.0)(8.9,-18.5)(9.2,-18.3)(9.5,-19.0)(9.8,-19.4)(10.1,-19.8)(10.4,-19.5)(10.7,-20.2)(11.0,-20.0)(11.3,-20.6)(11.6,-20.3)(11.9,-20.9)(12.2,-21.2)(12.5,-21.8)(12.8,-22.5)(13.0,-23.0)(13.2,-22.3)(13.5,-21.0)(13.8,-20.0)(14.1,-19.2)(14.4,-18.5)(14.7,-17.5)(15.0,-16.3)(15.25,-15)(15.45,-12)(15.6,-8.5)(15.69,-7.1)(15.78,-20)(15.88,-38)(15.98,-46)(16.08,-35)(16.2,-29)(16.4,-27)(16.6,-26)(16.8,-25.5)(17.0,-26)(17.2,-25.2)(17.4,-25.6)(17.6,-24.8)(17.8,-25.3)(18.0,-24.6)(18.2,-25.0)(18.4,-24.3)(18.6,-24.8)(18.8,-24.0)(19.0,-24.9)(19.2,-25.5)(19.4,-25.0)(19.6,-25.8)(19.8,-26.2)(20.0,-27)};
\draw[arrG, line width=1.4pt, -{Stealth[length=9pt,width=7pt]}] (axis cs:7.99,2.0) -- (axis cs:1.05,2.0);
\draw[arrG, line width=1.4pt, -{Stealth[length=9pt,width=7pt]}] (axis cs:8.59,2.0) -- (axis cs:15.87,2.0);
\node at (axis cs:8.55,5.2) {Decreasing chip temperature};
\end{axis}

% ================= (d) =================
\begin{axis}[myax, at={(605pt,-737pt)}, width=369pt, height=299pt,
  xmin=24.5, xmax=29.5, ymin=0, ymax=20,
  xtick={25,26,27,28,29}, xticklabels={25,26,27,28,29},
  ytick={0,5,10,15,20}, yticklabels={0,5,10,15,20},
  yticklabel style={tOrange},
  xtick pos=bottom, ytick pos=left]
\addplot[fr, dCyan, mark options={fill=dCyan!70!bCyan}] coordinates {(25,16.78)(25.5,16.83)(26,16.58)(26.5,16.58)(27,16.67)(27.5,16.6)(28,16.51)(28.5,16.47)(29,16.51)};
\addplot[fr, dOrange, mark options={fill=dOrange!90!black}] coordinates {(25,1.03)(25.5,1.92)(26,2.79)(26.5,3.69)(27,4.56)(27.5,5.36)(28,6.03)(28.5,6.93)(29,7.8)};
\addplot[fr, bNavy] coordinates {(25,15.64)(25.5,14.84)(26,13.74)(26.5,12.85)(27,12.16)(27.5,11.22)(28,10.32)(28.5,9.45)(29,8.56)};
\draw[ciC, dashed, line width=0.9pt] (axis cs:28,16.57) ellipse [x radius=16.5pt, y radius=14.5pt];
\draw[ciB, dashed, line width=0.9pt] (axis cs:28,10.38) ellipse [x radius=16.5pt, y radius=14.5pt];
\draw[ciR, dashed, line width=0.9pt] (axis cs:28,5.99) ellipse [x radius=16.5pt, y radius=14.5pt];
\node at (axis cs:27.0,17.9) {16.6 GHz};
\node at (axis cs:26.0,11.57) {–1.7 GHz/°C};
\node at (axis cs:26.16,4.92) {1.7 GHz/°C};
\fill[black] ([xshift=-8pt,yshift=-11pt]axis cs:28,13.73) rectangle ++(6pt,22pt);
\fill[black] ([xshift=2pt,yshift=-11pt]axis cs:28,13.73) rectangle ++(6pt,22pt);
\fill[black] ([xshift=-8pt,yshift=-2.5pt]axis cs:28,8.26) rectangle ++(16pt,5pt);
\fill[black] ([xshift=-2.5pt,yshift=-8pt]axis cs:28,8.26) rectangle ++(5pt,16pt);
\draw[arB, line width=1.2pt, -{Stealth[length=7pt,width=6pt]}] (axis cs:27.94,11.35) -- (axis cs:28.52,11.35);
\draw[arR, line width=1.2pt, -{Stealth[length=7pt,width=6pt]}] (axis cs:28.06,6.88) -- (axis cs:27.46,6.88);
\end{axis}
\begin{axis}[myax, at={(605pt,-737pt)}, width=369pt, height=299pt,
  xmin=24.5, xmax=29.5, ymin=0, ymax=20, hide x axis,
  ytick pos=right, yticklabel pos=right,
  ytick={0,5,10,15,20}, yticklabels={0,5,10,15,20},
  yticklabel style={tBlue}]
\end{axis}

% ================= labels =================
\node at (12pt,-16pt) {(a)};
\node at (555pt,-16pt) {(b)};
\node at (20pt,-441pt) {(c)};
\node[tOrange] at (555pt,-441pt) {(d)};
\node[rotate=90] at (23pt,-165pt) {Normalized |\textit{S}\textsubscript{21}| (dB)};
\node[rotate=90] at (23pt,-584pt) {Normalized |\textit{S}\textsubscript{21}| (dB)};
\node at (291pt,-354pt) {RF frequency (GHz)};
\node at (293pt,-769pt) {RF frequency (GHz)};
\node[rotate=90, tRed] at (555pt,-165pt) {TE centre frequency (GHz)};
\node[rotate=90, tBlue] at (1019pt,-160pt) {TM centre frequency (GHz)};
\node[rotate=90, tOrange] at (555pt,-587pt) {TE centre frequency (GHz)};
\node[rotate=90, tBlue] at (1019pt,-587pt) {TM centre frequency (GHz)};
\node at (813pt,-390pt) {Carrier wavelength (nm)};
\node at (788pt,-780pt) {Temperature (°C)};
\end{tikzpicture}
\end{document}
